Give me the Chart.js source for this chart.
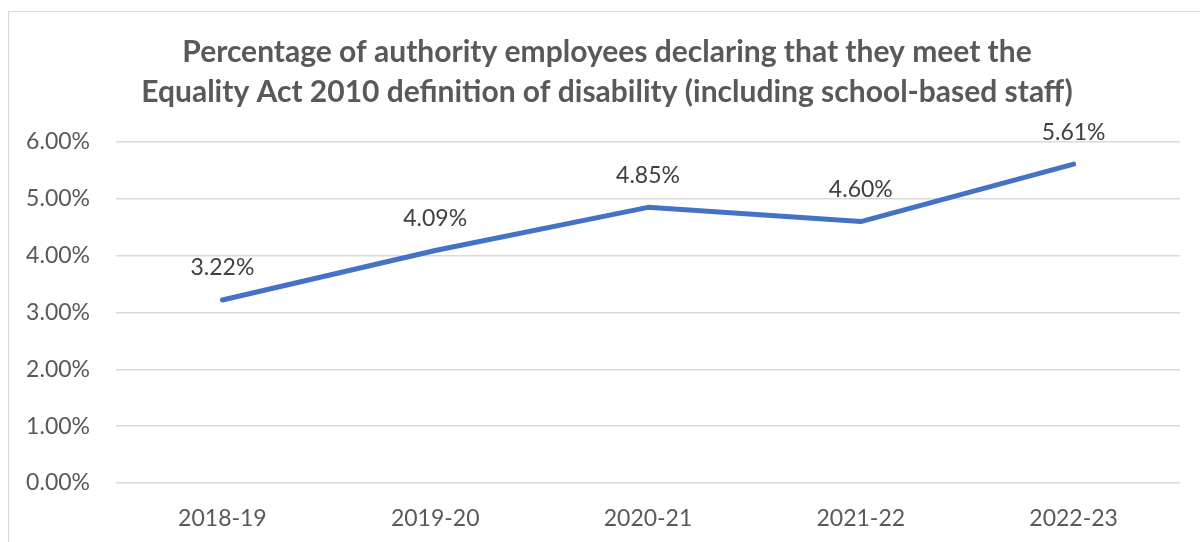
<!DOCTYPE html>
<html>
<head>
<meta charset="utf-8">
<script src="https://cdn.jsdelivr.net/npm/chart.js@4"></script>
<style>
  html, body { margin: 0; padding: 0; background: #fff; }
  #frame {
    position: absolute; left: 8px; top: 11px;
    width: 1200px; height: 540px;
    border: 1px solid #d9d9d9;
  }
  #wrap { position: absolute; left: 0; top: 0; width: 1200px; height: 542px; }
</style>
</head>
<body>
<div id="frame"></div>
<div id="wrap"><canvas id="disabilityChart"></canvas></div>
<script>
// Financial years and declared disability rate (%)
const years = ['2018-19', '2019-20', '2020-21', '2021-22', '2022-23'];
const disabilityPct = [3.22, 4.09, 4.85, 4.60, 5.61];
const titleLines = [
  'Percentage of authority employees declaring that they meet the',
  'Equality Act 2010 definition of disability (including school-based staff)'
];

const FONT = "Lato, 'Open Sans', sans-serif";

// Writes the value above each point
const pointLabels = {
  id: 'pointLabels',
  afterDatasetsDraw(chart) {
    const ctx = chart.ctx;
    const meta = chart.getDatasetMeta(0);
    ctx.save();
    ctx.font = '23px ' + FONT;
    ctx.fillStyle = '#404040';
    ctx.textAlign = 'center';
    ctx.textBaseline = 'middle';
    meta.data.forEach((pt, i) => {
      const v = chart.data.datasets[0].data[i];
      ctx.fillText(v.toFixed(2) + '%', pt.x, pt.y - 32);
    });
    ctx.restore();
  }
};

// Centre the title inside the framed box rather than the whole canvas
const titleShift = {
  id: 'titleShift',
  afterLayout(chart) {
    const t = chart.titleBlock;
    if (t) { t.left = 34; t.width = t.right - t.left; }
  }
};

new Chart(document.getElementById('disabilityChart'), {
  type: 'line',
  data: {
    labels: years,
    datasets: [{
      data: disabilityPct,
      borderColor: '#4472C4',
      backgroundColor: '#4472C4',
      borderWidth: 5,
      pointRadius: 0,
      tension: 0,
      borderCapStyle: 'round',
      borderJoinStyle: 'round'
    }]
  },
  options: {
    responsive: true,
    maintainAspectRatio: false,
    animation: false,
    layout: { padding: { left: 0, right: 20, top: 0, bottom: 0 } },
    plugins: {
      legend: { display: false },
      tooltip: { enabled: false },
      title: {
        display: true,
        text: titleLines,
        color: '#595959',
        font: { family: FONT, size: 30, weight: 'bold', lineHeight: 1.333 },
        padding: { top: 32, bottom: 30 }
      }
    },
    scales: {
      x: {
        offset: true,
        grid: { display: false, drawTicks: false },
        border: { display: false },
        ticks: {
          color: '#595959',
          font: { family: FONT, size: 23 },
          padding: 22,
          maxRotation: 0
        },
        afterFit(scale) { scale.height = 59; }
      },
      y: {
        min: 0,
        max: 6,
        ticks: {
          stepSize: 1,
          color: '#595959',
          font: { family: FONT, size: 23 },
          padding: 26,
          callback: v => v.toFixed(2) + '%'
        },
        grid: { color: '#d9d9d9', lineWidth: 1.5, drawTicks: false },
        border: { display: false },
        afterFit(scale) { scale.width = 116; }
      }
    }
  },
  plugins: [pointLabels, titleShift]
});
</script>
</body>
</html>
